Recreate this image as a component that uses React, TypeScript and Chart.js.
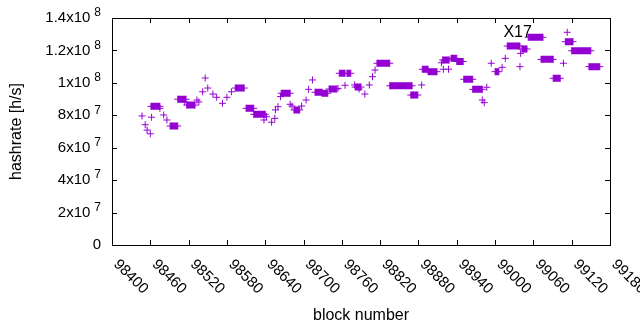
import React, { useEffect, useRef } from "react";
import { Chart, registerables } from "chart.js";

Chart.register(...registerables);

// ---- data ----
const singleBlocks = [
  98447, 98452, 98455, 98460, 98462, 98475, 98481, 98486, 98514, 98533, 98536, 98542, 98546, 98550,
  98558, 98564, 98573, 98580, 98587, 98638, 98642, 98650, 98655, 98656, 98660, 98664, 98679, 98682,
  98697, 98704, 98708, 98714, 98754, 98765, 98780, 98787, 98796, 98803, 98808, 98812, 98872, 98885,
  98916, 98919, 98927, 98980, 98983, 98987, 98994, 99011, 99016, 99039, 99040, 99107, 99113,
];
const singleRates = [
  7.96e7, 7.42e7, 7.09e7, 6.86e7, 7.88e7, 8.43e7, 8.02e7, 7.71e7, 8.82e7, 8.94e7, 8.82e7, 9.45e7, 10.3e7, 9.68e7,
  9.31e7, 9.11e7, 8.74e7, 9.11e7, 9.45e7, 7.71e7, 7.91e7, 7.57e7, 7.81e7, 8.33e7, 8.53e7, 9.15e7, 8.68e7, 8.57e7,
  8.57e7, 8.94e7, 9.6e7, 10.18e7, 9.66e7, 9.85e7, 9.87e7, 9.62e7, 9.31e7, 9.87e7, 10.38e7, 10.79e7, 9.25e7, 9.87e7,
  11.24e7, 10.84e7, 10.84e7, 8.94e7, 8.78e7, 9.73e7, 11.21e7, 10.96e7, 11.51e7, 11.0e7, 11.82e7, 11.21e7, 13.12e7,
];

// flat runs of equal hashrate (first block, last block, value)
const runStartBlocks = [
  98461, 98491, 98503, 98517, 98593, 98610, 98622, 98665, 98685, 98718, 98729, 98740, 98756, 98768,
  98781, 98815, 98835, 98868, 98886, 98895, 98918, 98931, 98940, 98951, 98965, 99000, 99019, 99042,
  99052, 99072, 99091, 99110, 99120, 99147,
];
const runEndBlocks = [
  98475, 98503, 98516, 98530, 98607, 98622, 98640, 98679, 98694, 98729, 98738, 98752, 98765, 98774,
  98790, 98835, 98870, 98879, 98895, 98909, 98928, 98940, 98950, 98965, 98980, 99006, 99039, 99050,
  99075, 99091, 99102, 99122, 99150, 99164,
];
const runRates = [
  8.55e7, 7.34e7, 8.99e7, 8.63e7, 9.68e7, 8.43e7, 8.06e7, 9.36e7, 8.33e7, 9.42e7, 9.36e7, 9.62e7, 10.59e7, 10.59e7,
  9.74e7, 11.21e7, 9.82e7, 9.25e7, 10.84e7, 10.69e7, 11.41e7, 11.51e7, 11.32e7, 10.22e7, 9.6e7, 10.69e7, 12.27e7, 12.09e7,
  12.81e7, 11.45e7, 10.28e7, 12.54e7, 11.98e7, 11.0e7,
];

const xTicks = [98400, 98460, 98520, 98580, 98640, 98700, 98760, 98820, 98880, 98940, 99000, 99060, 99120, 99180];
const xTickLabels = ["98400", "98460", "98520", "98580", "98640", "98700", "98760", "98820", "98880", "98940", "99000", "99060", "99120", "99180"];
const yTicks = [0, 2e7, 4e7, 6e7, 8e7, 1e8, 1.2e8, 1.4e8];
const yTickMantissa = ["0", "2x10", "4x10", "6x10", "8x10", "1x10", "1.2x10", "1.4x10"];
const yTickExponent = ["", "7", "7", "7", "7", "8", "8", "8"];

const xTitle = "block number";
const yTitle = "hashrate [h/s]";
const labelText = "X17";
const labelBlock = 99013;
const labelRate = 1.31e8;

const PURPLE = "#9400d3";
const FONT = '"Liberation Sans", Arial, sans-serif';

const gnuAxes = {
  id: "gnuAxes",
  afterDraw(chart: any) {
    const { ctx, chartArea: a, scales } = chart;
    const xs = scales.x;
    const ys = scales.y;
    const tl = 5;
    ctx.save();
    ctx.strokeStyle = "#000";
    ctx.lineWidth = 1;
    ctx.beginPath();
    for (const v of xTicks) {
      const px = Math.round(xs.getPixelForValue(v)) + 0.5;
      ctx.moveTo(px, a.bottom);
      ctx.lineTo(px, a.bottom - tl);
      ctx.moveTo(px, a.top);
      ctx.lineTo(px, a.top + tl);
    }
    for (const v of yTicks) {
      const py = Math.round(ys.getPixelForValue(v)) + 0.5;
      ctx.moveTo(a.left, py);
      ctx.lineTo(a.left + tl, py);
      ctx.moveTo(a.right, py);
      ctx.lineTo(a.right - tl, py);
    }
    ctx.stroke();
    ctx.strokeRect(Math.round(a.left) + 0.5, Math.round(a.top) + 0.5, Math.round(a.right - a.left), Math.round(a.bottom - a.top));

    ctx.fillStyle = "#000";
    // x tick labels, rotated clockwise
    ctx.font = `15px ${FONT}`;
    xTicks.forEach((v, i) => {
      const px = xs.getPixelForValue(v);
      ctx.save();
      ctx.translate(px + 4, a.bottom + 17);
      ctx.rotate(Math.PI / 4);
      ctx.textAlign = "left";
      ctx.textBaseline = "middle";
      ctx.fillText(xTickLabels[i], 0, 0);
      ctx.restore();
    });
    // y tick labels with raised exponent
    yTicks.forEach((v, i) => {
      const py = ys.getPixelForValue(v);
      const right = a.left - 11;
      const exp = yTickExponent[i];
      ctx.textBaseline = "middle";
      ctx.textAlign = "right";
      if (exp) {
        ctx.font = `12px ${FONT}`;
        const ew = ctx.measureText(exp).width;
        ctx.fillText(exp, right, py - 5);
        ctx.font = `15px ${FONT}`;
        ctx.fillText(yTickMantissa[i], right - ew - 4, py);
      } else {
        ctx.font = `15px ${FONT}`;
        ctx.fillText(yTickMantissa[i], right, py);
      }
    });
    // axis titles
    ctx.font = `16px ${FONT}`;
    ctx.textAlign = "center";
    ctx.textBaseline = "middle";
    ctx.fillText(xTitle, (a.left + a.right) / 2, 316);
    ctx.save();
    ctx.translate(17, (a.top + a.bottom) / 2);
    ctx.rotate(-Math.PI / 2);
    ctx.fillText(yTitle, 0, 0);
    ctx.restore();
    // point label
    ctx.textAlign = "left";
    ctx.fillText(labelText, xs.getPixelForValue(labelBlock), ys.getPixelForValue(labelRate));
    ctx.restore();
  },
};

export default function App() {
  const ref = useRef<HTMLCanvasElement | null>(null);
  useEffect(() => {
    if (!ref.current) return;
    const singles = singleBlocks.map((b, i) => ({ x: b, y: singleRates[i] }));
    const runPts: { x: number; y: number | null }[] = [];
    runStartBlocks.forEach((s, i) => {
      runPts.push({ x: s, y: runRates[i] });
      runPts.push({ x: runEndBlocks[i], y: runRates[i] });
      runPts.push({ x: runEndBlocks[i], y: null });
    });
    const chart = new Chart(ref.current, {
      type: "scatter",
      data: {
        datasets: [
          {
            data: runPts as any,
            showLine: true,
            spanGaps: false,
            borderColor: PURPLE,
            backgroundColor: PURPLE,
            borderWidth: 7,
            borderCapStyle: "butt",
            pointStyle: "cross",
            pointRadius: 3.5,
            pointBorderWidth: 1,
            pointBorderColor: PURPLE,
          } as any,
          {
            data: singles,
            borderColor: PURPLE,
            backgroundColor: PURPLE,
            pointStyle: "cross",
            pointRadius: 3.5,
            pointBorderWidth: 1,
          } as any,
        ],
      },
      options: {
        animation: false,
        responsive: false,
        maintainAspectRatio: false,
        events: [],
        layout: { padding: { left: 112, right: 30, top: 18, bottom: 85 } },
        plugins: { legend: { display: false }, tooltip: { enabled: false } },
        scales: {
          x: { type: "linear", min: 98400, max: 99180, display: false },
          y: { type: "linear", min: 0, max: 1.4e8, display: false },
        },
      },
      plugins: [gnuAxes],
    });
    return () => chart.destroy();
  }, []);
  return (
    <div style={{ position: "absolute", left: 0, top: 0, width: 640, height: 330, background: "#fff" }}>
      <canvas ref={ref} width={640} height={330} style={{ width: 640, height: 330 }} />
    </div>
  );
}
